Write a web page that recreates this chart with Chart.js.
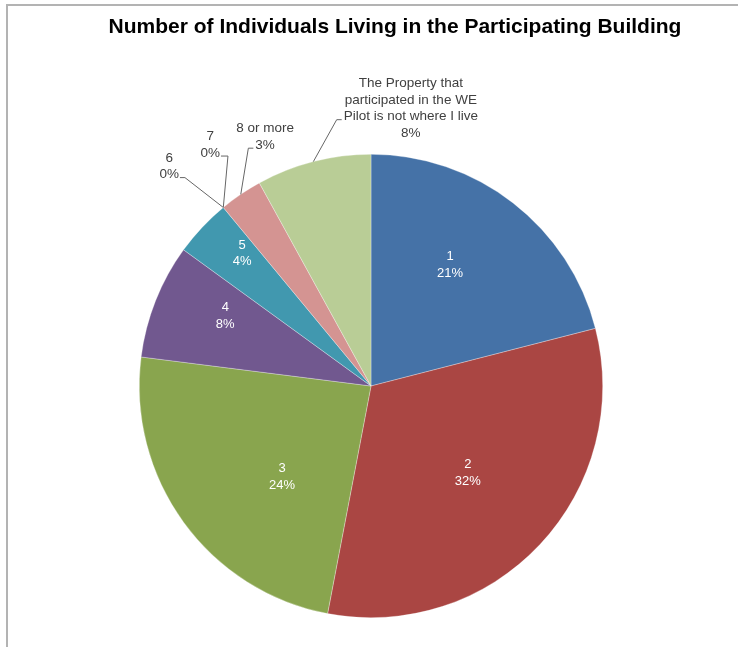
<!DOCTYPE html>
<html lang="en">
<head>
<meta charset="UTF-8">
<title>Number of Individuals Living in the Participating Building</title>
<script src="https://cdn.jsdelivr.net/npm/chart.js"></script>
<style>
  html, body { margin: 0; padding: 0; background: #fff; }
  #wrap { position: relative; width: 738px; height: 647px; overflow: hidden; }
  #frame { position: absolute; left: 6px; top: 4px; right: -4px; bottom: -4px; border-top: 2px solid #b3b3b3; border-left: 2px solid #b3b3b3; }
  canvas { position: absolute; left: 0; top: 0; }
</style>
</head>
<body>
<div id="wrap">
  <div id="frame"></div>
  <canvas id="pie" width="738" height="647"></canvas>
</div>
<script>
const chartTitle = 'Number of Individuals Living in the Participating Building';
const categories = ['1', '2', '3', '4', '5', '6', '7', '8 or more',
  ['The Property that', 'participated in the WE', 'Pilot is not where I live']];
const shares = [21, 32, 24, 8, 4, 0, 0, 3, 8];
const sliceColors = ['#4572a7', '#aa4643', '#89a54e', '#71588f', '#4198af',
  '#db843d', '#93a9cf', '#d49492', '#b9cd96'];

// where each label sits, in units of the pie radius from its centre
const labelPlacement = [
  { fx: 0.341, fy: -0.522 },
  { fx: 0.418, fy: 0.375 },
  { fx: -0.384, fy: 0.392 },
  { fx: -0.629, fy: -0.302 },
  { fx: -0.556, fy: -0.573 },
  { fx: -0.871, fy: -0.948, outside: true, side: 'right', row: 1, stub: 5 },
  { fx: -0.694, fy: -1.041, outside: true, side: 'right', row: 1, stub: 7 },
  { fx: -0.457, fy: -1.075, outside: true, side: 'left', row: 1, stub: 5 },
  { fx: 0.172, fy: -1.198, outside: true, side: 'left', row: 2, stub: 5 }
];

const total = shares.reduce((a, b) => a + b, 0);
const INNER_FONT = '13px "Liberation Sans", Arial, sans-serif';
const OUTER_FONT = '13.5px "Liberation Sans", Arial, sans-serif';
const LINE_H = 16.5;

const titlePlugin = {
  id: 'titleText',
  afterDraw(chart) {
    const ctx = chart.ctx;
    ctx.save();
    ctx.font = 'bold 21px "Liberation Sans", Arial, sans-serif';
    ctx.fillStyle = '#000';
    ctx.textAlign = 'center';
    ctx.textBaseline = 'middle';
    ctx.fillText(chartTitle, 395, 27);
    ctx.restore();
  }
};

const sliceLabels = {
  id: 'sliceLabels',
  afterDatasetsDraw(chart) {
    const ctx = chart.ctx;
    const arcs = chart.getDatasetMeta(0).data;
    ctx.save();
    ctx.textAlign = 'center';
    ctx.textBaseline = 'middle';
    arcs.forEach((arc, i) => {
      const p = arc.getProps(['x', 'y', 'startAngle', 'endAngle', 'outerRadius'], true);
      const place = labelPlacement[i];
      const lines = [].concat(categories[i], Math.round(shares[i] / total * 100) + '%');
      const cx = p.x + place.fx * p.outerRadius;
      const cy = p.y + place.fy * p.outerRadius;
      const top = cy - (lines.length - 1) * LINE_H / 2;

      if (place.outside) {
        ctx.font = OUTER_FONT;
        // leader line from the slice's rim to the label edge
        const mid = (p.startAngle + p.endAngle) / 2;
        const rx = p.x + Math.cos(mid) * p.outerRadius;
        const ry = p.y + Math.sin(mid) * p.outerRadius;
        const rowW = ctx.measureText(lines[place.row]).width;
        const ay = top + place.row * LINE_H + 3;
        const ax = place.side === 'right' ? cx + rowW / 2 + 1 : cx - rowW / 2 - 2;
        const ex = place.side === 'right' ? ax + place.stub : ax - place.stub;
        ctx.strokeStyle = '#666666';
        ctx.lineWidth = 1;
        ctx.beginPath();
        ctx.moveTo(ax, ay);
        ctx.lineTo(ex, ay);
        ctx.lineTo(rx, ry);
        ctx.stroke();
        ctx.fillStyle = '#404040';
      } else {
        ctx.font = INNER_FONT;
        ctx.fillStyle = '#ffffff';
      }
      lines.forEach((t, k) => ctx.fillText(t, cx, top + k * LINE_H));
    });
    ctx.restore();
  }
};

new Chart(document.getElementById('pie').getContext('2d'), {
  type: 'pie',
  data: {
    labels: categories,
    datasets: [{
      data: shares,
      backgroundColor: sliceColors,
      borderColor: 'rgba(255,255,255,0.5)',
      borderWidth: 0.6
    }]
  },
  options: {
    responsive: false,
    animation: false,
    layout: { padding: { left: 139, right: 135, top: 154, bottom: 29 } },
    plugins: {
      legend: { display: false },
      tooltip: { enabled: false },
      title: { display: false }
    }
  },
  plugins: [sliceLabels, titlePlugin]
});
</script>
</body>
</html>
